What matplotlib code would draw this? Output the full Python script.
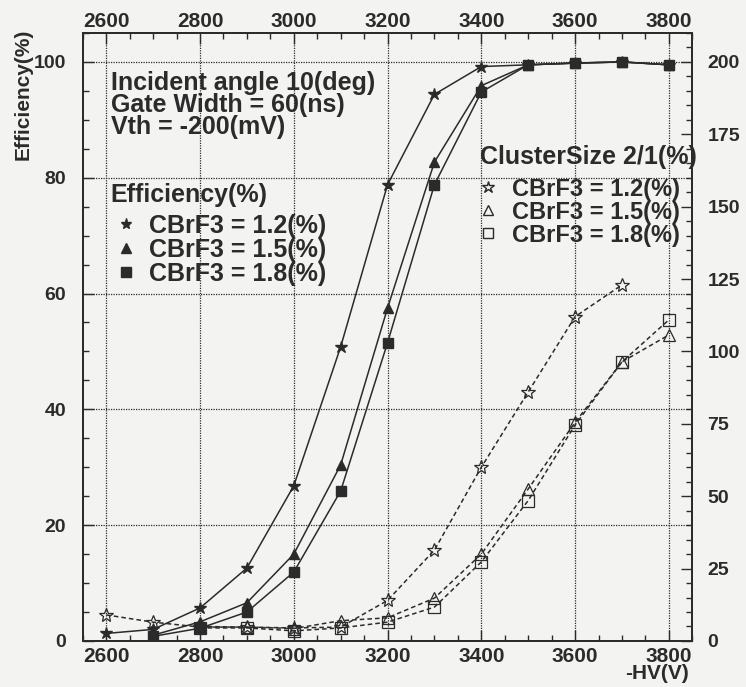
import numpy as np
from matplotlib import pyplot as plt
from matplotlib.lines import Line2D
from matplotlib.ticker import MultipleLocator

plt.rcParams["font.family"] = ["Liberation Sans", "DejaVu Sans"]
plt.rcParams["font.weight"] = "bold"

# -HV (V)
hv = [2600, 2700, 2800, 2900, 3000, 3100, 3200, 3300, 3400, 3500, 3600, 3700, 3800]

# efficiency (%), left axis
eff_12 = [1.3, 2.0, 5.7, 12.6, 26.8, 50.8, 78.8, 94.4, 99.2, 99.5, 99.8, 100.0, 99.5]
eff_15 = [None, 1.0, 3.3, 6.6, 15.0, 30.4, 57.5, 82.7, 95.9, 99.5, 99.8, 100.0, 99.5]
eff_18 = [None, 0.8, 2.2, 5.0, 11.9, 25.9, 51.5, 78.8, 94.8, 99.5, 99.8, 100.0, 99.5]

# cluster size 2/1 (%), right axis
cs_12 = [9.0, 6.5, 4.8, 4.8, 4.5, 4.8, 14.0, 31.4, 60.0, 86.0, 112.0, 123.0, None]
cs_15 = [None, None, 5.0, 4.8, 4.3, 7.0, 8.0, 14.8, 30.0, 52.5, 75.5, 96.4, 105.7]
cs_18 = [None, None, 4.5, 4.5, 3.5, 4.5, 6.5, 11.7, 27.3, 48.5, 74.6, 96.4, 110.9]

labels = ["CBrF3 = 1.2(%)", "CBrF3 = 1.5(%)", "CBrF3 = 1.8(%)"]

ink = "#2b2b2b"
bg = "#f3f3f1"


def series(vals):
    x = [h for h, v in zip(hv, vals) if v is not None]
    y = [v for v in vals if v is not None]
    return x, y


fig = plt.figure(figsize=(7.46, 6.87), dpi=100, facecolor=bg)
ax = fig.add_axes([0.111, 0.067, 0.817, 0.885], facecolor=bg)
ax2 = ax.twinx()

for vals, m, ms in zip([eff_12, eff_15, eff_18], ["*", "^", "s"], [9, 7, 7]):
    x, y = series(vals)
    ax.plot(x, y, color=ink, lw=1.1, marker=m, ms=ms, mfc=ink, mec=ink)

for vals, m, ms in zip([cs_12, cs_15, cs_18], ["*", "^", "s"], [10, 8, 8]):
    x, y = series(vals)
    ax2.plot(x, y, color=ink, lw=1.1, ls=(0, (3, 2)), marker=m, ms=ms,
             mfc="none", mec=ink, mew=0.9)

ax.set_xlim(2550, 3850)
ax.set_ylim(0, 105)
ax2.set_ylim(0, 210)

ax.xaxis.set_major_locator(MultipleLocator(200))
ax.xaxis.set_minor_locator(MultipleLocator(50))
ax.yaxis.set_major_locator(MultipleLocator(20))
ax.yaxis.set_minor_locator(MultipleLocator(5))
ax2.yaxis.set_major_locator(MultipleLocator(25))
ax2.yaxis.set_minor_locator(MultipleLocator(5))

ax.grid(True, which="major", color=ink, lw=0.9, ls=(0, (1, 1)))

ax.tick_params(axis="x", which="both", direction="in", top=True, labeltop=True,
               colors=ink, labelsize=15, pad=4)
ax.tick_params(axis="y", which="both", direction="in", right=False,
               colors=ink, labelsize=14, pad=12)
ax2.tick_params(axis="y", which="both", direction="in", colors=ink,
                labelsize=14, pad=11)
for a in (ax, ax2):
    a.tick_params(which="major", length=8, width=1)
    a.tick_params(which="minor", length=4, width=1)
    for s in a.spines.values():
        s.set_color(ink)
        s.set_linewidth(1.3)

# top labels sit on their baseline, a little closer to the frame
for t in ax.xaxis.get_major_ticks():
    t.label2.set_verticalalignment("baseline")

fig.text(0.031, 0.862, "Efficiency(%)", rotation=90, ha="center", va="center",
         fontsize=15, color=ink)
fig.text(0.924, 0.012, "-HV(V)", ha="right", va="baseline", fontsize=15, color=ink)

ax.text(0.046, 0.937, "Incident angle 10(deg)\nGate Width = 60(ns)\nVth = -200(mV)",
        transform=ax.transAxes, ha="left", va="top", fontsize=18,
        color=ink, linespacing=0.9)

h1 = [Line2D([], [], ls="none", marker=m, ms=ms, color=ink)
      for m, ms in zip(["*", "^", "s"], [8, 7, 7])]
h2 = [Line2D([], [], ls="none", marker=m, ms=ms, mfc="none", mec=ink)
      for m, ms in zip(["*", "^", "s"], [9, 7, 7])]

ax.text(0.046, 0.753, "Efficiency(%)", transform=ax.transAxes, ha="left",
        va="top", fontsize=18, color=ink)
leg1 = ax.legend(h1, labels, loc="upper left", bbox_to_anchor=(0.046, 0.703),
                 frameon=False, borderpad=0, borderaxespad=0, labelspacing=0.0,
                 handletextpad=0.32, handlelength=1.2, prop={"size": 18},
                 labelcolor=ink)
ax.add_artist(leg1)

ax.text(0.652, 0.815, "ClusterSize 2/1(%)", transform=ax.transAxes, ha="left",
        va="top", fontsize=18, color=ink)
leg2 = ax.legend(h2, labels, loc="upper left", bbox_to_anchor=(0.652, 0.762),
                 frameon=False, borderpad=0, borderaxespad=0, labelspacing=0.0,
                 handletextpad=0.68, handlelength=0.68, prop={"size": 17},
                 labelcolor=ink)

fig.savefig("out.png", dpi=100, facecolor=bg)
